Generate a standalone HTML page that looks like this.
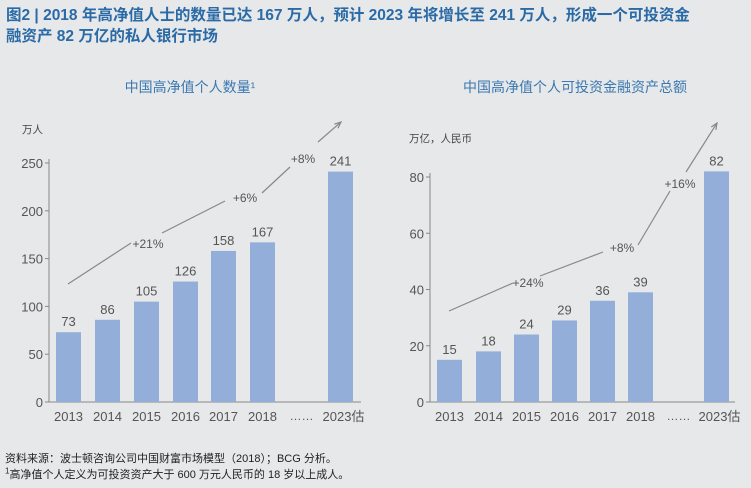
<!DOCTYPE html>
<html><head><meta charset="utf-8">
<style>
body{margin:0;width:751px;height:488px;background:#e7e8ea;overflow:hidden;font-family:"Liberation Sans","Noto Sans CJK SC",sans-serif}
.t{position:absolute;left:6px;top:5px;font-size:15.5px;font-weight:bold;color:#2a6aa6;line-height:21px;width:745px}
.f{position:absolute;left:5px;font-size:11px;color:#222}
svg{position:absolute;left:0;top:0}
</style></head><body>
<div class="t">图2 | 2018 年高净值人士的数量已达 167 万人，预计 2023 年将增长至 241 万人，形成一个可投资金<br>融资产 82 万亿的私人银行市场</div>
<div class="f" style="top:450px">资料来源：波士顿咨询公司中国财富市场模型（2018）；BCG 分析。</div>
<div class="f" style="top:466px"><sup style="font-size:8px">1</sup>高净值个人定义为可投资资产大于 600 万元人民币的 18 岁以上成人。</div>
<svg id="s" width="751" height="488"></svg>
<script>
const categories=["2013","2014","2015","2016","2017","2018","2023估"];
const hnwiCount=[73,86,105,126,158,167,241];
const assets=[15,18,24,29,36,39,82];
const leftTicks=[0,50,100,150,200,250];
const rightTicks=[0,20,40,60,80];
const leftGrowth=["+21%","+6%","+8%"];
const rightGrowth=["+24%","+8%","+16%"];
const NS="http://www.w3.org/2000/svg";
const svg=document.getElementById('s');
function el(t,a,txt){const e=document.createElementNS(NS,t);for(const k in a)e.setAttribute(k,a[k]);if(txt!=null)e.textContent=txt;svg.appendChild(e);return e;}
function chart(o){
  const y=v=>o.y0-v*o.scale;
  const t=el('text',{x:o.tx,y:92,'text-anchor':'middle','font-size':14,fill:'#3a78b0'},o.title);
  
  const u=el('text',{x:o.ux,y:o.uy,'font-size':10.5,fill:'#444'},o.unit);
  
  const ax=el('line',{x1:o.ax,y1:y(o.ticks[o.ticks.length-1])-4,x2:o.ax,y2:o.y0,stroke:'#888'});
  
  const bx=el('line',{x1:o.ax,y1:o.y0,x2:o.axEnd,y2:o.y0,stroke:'#888'});
  
  o.ticks.forEach(v=>{
    el('line',{x1:o.ax-4,y1:y(v),x2:o.ax,y2:y(v),stroke:'#888'});
    const tl=el('text',{x:o.ax-6,y:y(v)+5,'text-anchor':'end','font-size':13,fill:'#555'},v);
    
  });
  o.data.forEach((v,i)=>{
    const x=o.bx[i];
    const r=el('rect',{x:x,y:y(v),width:25,height:v*o.scale,fill:'#93afd9'});
    
    const vl=el('text',{x:x+12.5,y:y(v)-6,'text-anchor':'middle','font-size':13,fill:'#555'},v);
    
    const cl=el('text',{x:x+12.5+(i==6?3:0),y:421,'text-anchor':'middle','font-size':13,fill:'#555'},categories[i]);
    
  });
  el('text',{x:(o.bx[5]+o.bx[6])/2+12.5,y:420,'text-anchor':'middle','font-size':12,fill:'#555'},'……');
  o.segs.forEach((s,i)=>{
    const l=el('line',{x1:s[0],y1:s[1],x2:s[2],y2:s[3],stroke:'#888','stroke-width':1.2});
    
  });
  const last=o.segs[o.segs.length-1];
  const ang=Math.atan2(last[3]-last[1],last[2]-last[0]);
  const hx=last[2],hy=last[3];
  el('polyline',{points:`${hx-7*Math.cos(ang-0.4)},${hy-7*Math.sin(ang-0.4)} ${hx},${hy} ${hx-7*Math.cos(ang+0.4)},${hy-7*Math.sin(ang+0.4)}`,fill:'none',stroke:'#888','stroke-width':1.2});
  o.growth.forEach((g,i)=>{
    const gl=el('text',{x:o.gpos[i][0],y:o.gpos[i][1],'text-anchor':'middle','font-size':12,fill:'#555'},g);
    
  });
}
chart({id:'hnwi',title:'中国高净值个人数量¹',tx:190,unit:'万人',ux:22,uy:133,ax:49,axEnd:361,y0:402,scale:239/250,ticks:leftTicks,data:hnwiCount,
 bx:[56,95,134,173,211,250,328],
 segs:[[68,284,131,243],[162,233,225,201],[262,193,290,167],[318,142,341,122]],
 growth:leftGrowth,gpos:[[148,248],[245,202],[303,163]]});
chart({id:'assets',title:'中国高净值个人可投资金融资产总额',tx:575,unit:'万亿，人民币',ux:409,uy:142,ax:430,axEnd:735,y0:402,scale:225/80,ticks:rightTicks,data:assets,
 bx:[437,476,514,552,590,628,704],
 segs:[[449,311,513,283],[540,276,603,252],[638,245,670,191],[686,172,717,123]],
 growth:rightGrowth,gpos:[[528,287],[622,252],[680,188]]});
</script>
</body></html>
